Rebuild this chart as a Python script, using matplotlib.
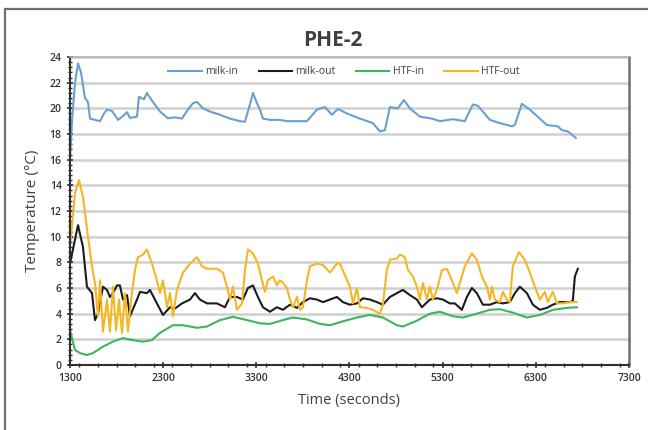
import matplotlib
matplotlib.use("Agg")
import matplotlib.pyplot as plt
from matplotlib.ticker import MultipleLocator
from matplotlib.patches import Rectangle

# ---- data ----
milk_in_t = [1300, 1321, 1354, 1386, 1418, 1461, 1493, 1515, 1568, 1622, 1665, 1697, 1751, 1815,
             1869, 1912, 1944, 2019, 2040, 2094, 2126, 2180, 2266, 2352, 2427, 2502, 2566, 2620,
             2663, 2727, 2802, 2910, 3017, 3124, 3178, 3231, 3264, 3307, 3339, 3371, 3446, 3553,
             3628, 3843, 3950, 4036, 4111, 4176, 4272, 4412, 4551, 4626, 4680, 4734, 4819, 4884,
             4948, 5056, 5184, 5270, 5410, 5538, 5624, 5678, 5807, 5914, 6043, 6075, 6150, 6236,
             6418, 6536, 6579, 6644, 6729]
milk_in = [16.0, 19.0, 22.0, 23.5, 22.8, 20.8, 20.5, 19.2, 19.1, 19.0, 19.6, 19.9, 19.8, 19.1,
           19.4, 19.7, 19.25, 19.35, 20.9, 20.7, 21.2, 20.6, 19.75, 19.22, 19.3, 19.2, 19.9, 20.4,
           20.5, 20.0, 19.75, 19.5, 19.2, 19.0, 18.95, 20.3, 21.2, 20.4, 19.9, 19.2, 19.1, 19.1,
           19.0, 19.0, 19.9, 20.1, 19.5, 19.95, 19.6, 19.2, 18.85, 18.2, 18.3, 20.1, 20.0, 20.65,
           20.0, 19.35, 19.2, 19.0, 19.15, 19.0, 20.3, 20.2, 19.1, 18.85, 18.6, 18.7, 20.35, 19.9,
           18.7, 18.6, 18.3, 18.2, 17.7]

milk_out_t = [1300, 1386, 1439, 1482, 1536, 1568, 1600, 1654, 1697, 1729, 1761, 1804, 1836, 1869,
              1912, 1944, 2019, 2051, 2126, 2158, 2233, 2298, 2373, 2427, 2502, 2588, 2641, 2695,
              2770, 2877, 2963, 3017, 3092, 3156, 3210, 3264, 3317, 3371, 3446, 3521, 3585, 3661,
              3736, 3800, 3875, 3950, 4015, 4090, 4165, 4229, 4304, 4380, 4444, 4519, 4594, 4658,
              4734, 4809, 4873, 4948, 5023, 5077, 5163, 5238, 5302, 5377, 5431, 5506, 5560, 5613,
              5667, 5731, 5807, 5882, 5946, 6021, 6075, 6129, 6204, 6268, 6343, 6418, 6483, 6558,
              6665, 6697, 6719, 6751]
milk_out = [7.9, 10.9, 9.2, 6.1, 5.6, 3.5, 4.0, 6.1, 5.85, 5.3, 5.6, 6.2, 6.2, 5.1,
            5.45, 3.8, 5.1, 5.7, 5.6, 5.85, 4.8, 3.9, 4.5, 4.4, 4.8, 5.1, 5.6, 5.1,
            4.8, 4.8, 4.5, 5.3, 5.3, 5.1, 6.0, 6.2, 5.3, 4.5, 4.15, 4.5, 4.3, 4.7,
            4.45, 4.9, 5.2, 5.1, 4.9, 5.1, 5.3, 4.9, 4.7, 4.8, 5.2, 5.1, 4.9, 4.7,
            5.3, 5.6, 5.85, 5.45, 5.1, 4.5, 5.1, 5.2, 5.1, 4.8, 4.8, 4.3, 5.3, 6.0,
            5.6, 4.7, 4.7, 4.9, 4.8, 4.9, 5.6, 6.1, 5.6, 4.7, 4.3, 4.45, 4.7, 4.9,
            4.9, 5.0, 6.9, 7.5]

htf_in_t = [1300, 1354, 1407, 1482, 1547, 1654, 1761, 1869, 1965, 2083, 2180, 2266, 2405, 2513,
            2663, 2770, 2910, 3049, 3199, 3339, 3446, 3585, 3693, 3843, 3983, 4090, 4229, 4380,
            4519, 4658, 4809, 4873, 5023, 5163, 5270, 5410, 5517, 5667, 5807, 5914, 6053, 6204,
            6343, 6483, 6633, 6740]
htf_in = [2.7, 1.17, 0.93, 0.78, 0.93, 1.43, 1.82, 2.1, 1.95, 1.82, 1.95, 2.5, 3.1, 3.1,
          2.9, 3.0, 3.5, 3.75, 3.5, 3.25, 3.2, 3.5, 3.7, 3.55, 3.2, 3.1, 3.4, 3.7,
          3.9, 3.7, 3.1, 3.0, 3.45, 4.0, 4.15, 3.8, 3.7, 4.0, 4.3, 4.35, 4.08, 3.7,
          3.9, 4.3, 4.45, 4.5]

htf_out_t = [1300, 1354, 1397, 1439, 1493, 1536, 1568, 1600, 1622, 1654, 1697, 1729, 1761, 1794,
             1826, 1858, 1890, 1922, 1965, 1997, 2030, 2083, 2126, 2180, 2233, 2266, 2298, 2341,
             2373, 2405, 2448, 2513, 2588, 2663, 2716, 2770, 2877, 2942, 2985, 3017, 3049, 3092,
             3146, 3178, 3210, 3264, 3317, 3360, 3392, 3424, 3478, 3521, 3553, 3585, 3628, 3661,
             3693, 3736, 3768, 3800, 3843, 3875, 3950, 4015, 4090, 4165, 4197, 4251, 4304, 4337,
             4380, 4412, 4487, 4551, 4626, 4658, 4701, 4734, 4809, 4841, 4895, 4927, 4980, 5023,
             5056, 5088, 5131, 5163, 5195, 5238, 5292, 5345, 5399, 5453, 5485, 5538, 5613, 5667,
             5721, 5774, 5807, 5828, 5860, 5914, 5946, 5989, 6021, 6053, 6118, 6182, 6236, 6290,
             6343, 6397, 6429, 6483, 6526, 6590, 6665, 6740]
htf_out = [9.2, 13.4, 14.4, 13.1, 10.0, 7.7, 6.4, 3.8, 6.6, 2.6, 5.1, 2.6, 6.1, 2.7,
           5.1, 2.5, 5.6, 2.6, 5.6, 7.4, 8.4, 8.6, 9.0, 7.9, 6.6, 5.6, 6.6, 4.5,
           5.6, 3.8, 5.85, 7.2, 7.9, 8.4, 7.7, 7.5, 7.5, 7.2, 6.1, 5.1, 6.1, 4.3,
           4.8, 7.4, 9.0, 8.7, 7.9, 6.6, 5.7, 6.6, 6.9, 6.2, 6.6, 6.4, 6.0, 5.1,
           4.5, 5.3, 4.3, 4.5, 6.6, 7.7, 7.9, 7.8, 7.2, 7.9, 7.9, 7.0, 6.1, 4.8,
           6.0, 4.5, 4.45, 4.3, 4.0, 4.7, 7.4, 8.2, 8.3, 8.6, 8.4, 7.4, 6.9, 6.1,
           5.1, 6.4, 5.1, 6.1, 5.1, 5.85, 7.4, 7.5, 6.6, 5.6, 6.4, 7.7, 8.7, 8.2,
           6.9, 6.1, 5.1, 6.1, 5.1, 4.9, 5.7, 5.1, 4.9, 7.7, 8.8, 8.2, 7.2, 6.1,
           5.1, 5.7, 4.9, 5.7, 4.8, 4.8, 4.9, 4.9]

series_labels = ["milk-in", "milk-out", "HTF-in", "HTF-out"]
series_colors = ["#6a9fd6", "#1c1c1c", "#3db55c", "#f6b624"]
x_ticks = [1300, 2300, 3300, 4300, 5300, 6300, 7300]
y_ticks = [0, 2, 4, 6, 8, 10, 12, 14, 16, 18, 20, 22, 24]

plt.rcParams['font.family'] = ['Open Sans', 'DejaVu Sans']

fig = plt.figure(figsize=(6.48, 4.30), dpi=100)
ax = fig.add_axes([70/648, 1-365/430, (629-70)/648, (365-57)/430])

# outer frame (left & top visible)
fig.patches.append(Rectangle((5/648, -0.05), 1.1, 1-9/430+0.05, transform=fig.transFigure,
                             fill=False, edgecolor="#707070", linewidth=1.6))

ax.set_axisbelow(True)
ax.yaxis.grid(True, color="#d0d0d0", linewidth=1.8)

data = [(milk_in_t, milk_in), (milk_out_t, milk_out), (htf_in_t, htf_in), (htf_out_t, htf_out)]
for (t, v), lab, col in zip(data, series_labels, series_colors):
    ax.plot(t, v, color=col, linewidth=1.5, label=lab)

ax.set_xlim(1300, 7300)
ax.set_ylim(0, 24)
ax.set_xticks(x_ticks)
ax.set_yticks(y_ticks)
ax.xaxis.set_minor_locator(MultipleLocator(200))
ax.yaxis.set_minor_locator(MultipleLocator(0.4))
ax.tick_params(axis='both', which='major', labelsize=7.5, direction='inout', length=5,
               width=1.2, color="#303030", labelcolor="#333333")
ax.tick_params(axis='both', which='minor', direction='inout', length=3, width=1.0, color="#303030")
ax.tick_params(axis='y', which='both', right=False)
for lbl in ax.get_xticklabels() + ax.get_yticklabels():
    lbl.set_fontweight("semibold")

for s in ["left", "bottom"]:
    ax.spines[s].set_color("#303030")
    ax.spines[s].set_linewidth(1.5)
ax.spines["right"].set_color("#707070")
ax.spines["right"].set_linewidth(1.8)
ax.spines["top"].set_color("#b0b0b0")
ax.spines["top"].set_linewidth(1.2)

ax.set_xlabel("Time (seconds)", fontsize=10.5, color="#404040", labelpad=6)
ax.set_ylabel("Temperature (\u00b0C)", fontsize=11, color="#404040", labelpad=7)

fig.text(333/648, 1-40/430, "PHE-2", ha="center", va="center", fontsize=15,
         fontweight="bold", color="#404040")

leg = ax.legend(loc="upper center", bbox_to_anchor=(0.49, 1.0), ncol=4, frameon=False,
                fontsize=7.5, handlelength=3.2, columnspacing=2.0, handletextpad=0.3)
for txt in leg.get_texts():
    txt.set_color("#404040")

fig.savefig("out.png", dpi=100)
